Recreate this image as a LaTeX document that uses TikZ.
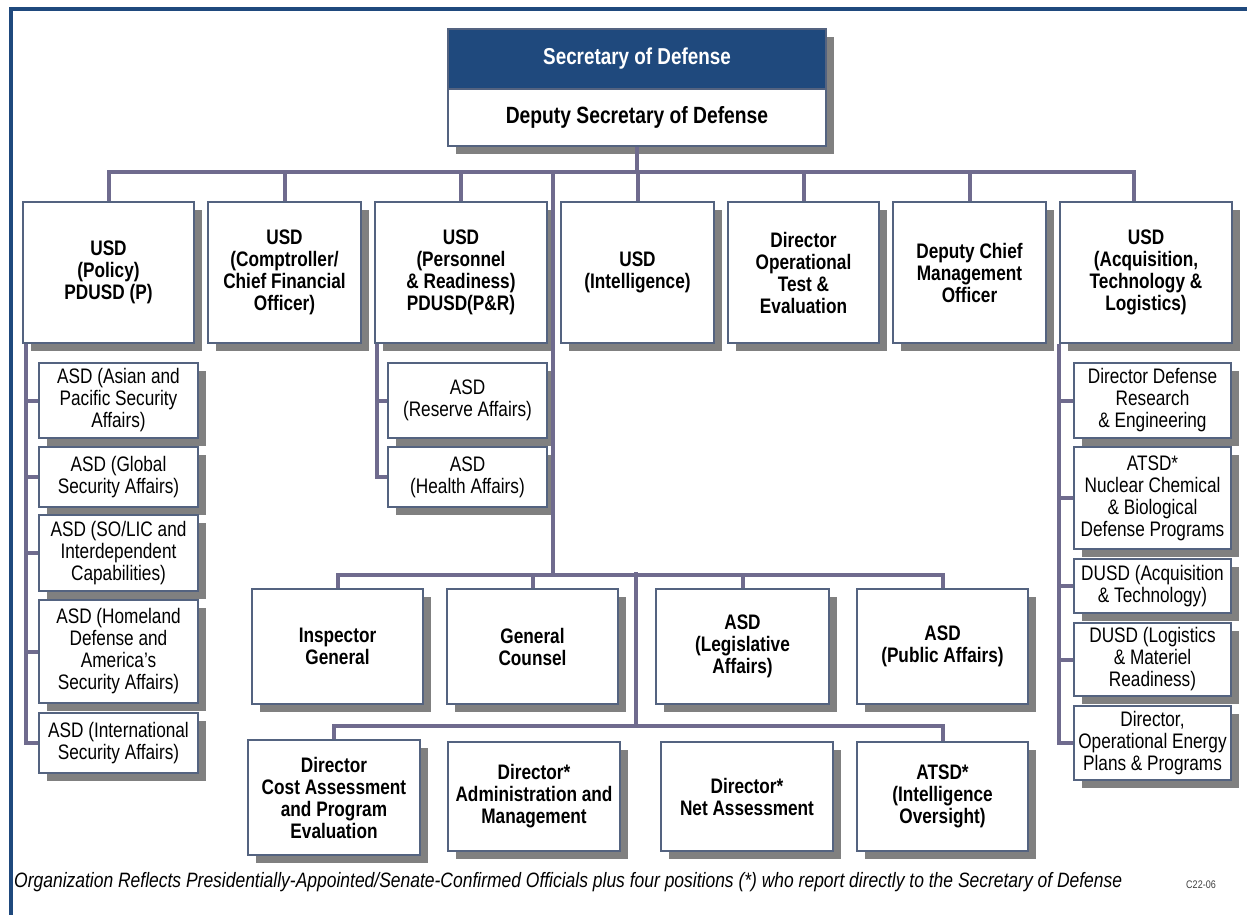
\documentclass[tikz,border=0pt]{standalone}
\usepackage{fontspec}
\setmainfont{Liberation Sans}
\newfontfamily\narrowfont[FakeStretch=0.82]{Liberation Sans}
\newfontfamily\notefont[FakeStretch=0.84]{Liberation Sans}
\usetikzlibrary{shadows}

\definecolor{secblue}{RGB}{31,73,125}
\definecolor{boxedge}{RGB}{84,99,128}
\definecolor{linkgray}{RGB}{111,107,142}
\definecolor{shadowgray}{RGB}{128,128,128}

\begin{document}
\begin{tikzpicture}[x=1pt,y=-1pt,
	orgbox/.style={draw=boxedge,line width=1.5pt,fill=white,align=center,inner sep=1pt,
		font=\narrowfont\fontsize{21}{22}\selectfont,
		drop shadow={shadow xshift=8pt,shadow yshift=-8pt,fill=shadowgray,opacity=1}},
	headbox/.style={orgbox,font=\narrowfont\bfseries\fontsize{21}{22}\selectfont},
	conn/.style={draw=linkgray,line width=4pt},
	frame/.style={draw=secblue,line width=4.5pt}]
		\useasboundingbox (0,0) rectangle (1247,915);
		
		% Draw the outer frame
		\draw[frame] (11,915) -- (11,9) -- (1247,9);
		
		% Secretary and deputy
		\node[headbox,fill=secblue,text=white,minimum width=378pt,minimum height=60pt,
			font=\narrowfont\bfseries\fontsize{23}{24}\selectfont] (sec) at (637,59) {Secretary of Defense};
		\node[headbox,minimum width=378pt,minimum height=57pt,
			font=\narrowfont\bfseries\fontsize{23.5}{24}\selectfont] (dep) at (637,117.5) {Deputy Secretary of Defense};
		
		% Under secretaries and directors
		\node[headbox,minimum width=171pt,minimum height=141pt] (pol) at (108.5,272.5) {USD\\(Policy)\\PDUSD (P)};
		\node[headbox,minimum width=153pt,minimum height=141pt] (cmp) at (284.5,272.5) {USD\\(Comptroller/\\Chief Financial\\Officer)};
		\node[headbox,minimum width=172pt,minimum height=141pt] (pr) at (461,272.5) {USD\\(Personnel\\\& Readiness)\\PDUSD(P\&R)};
		\node[headbox,minimum width=153pt,minimum height=141pt] (intel) at (637.5,272.5) {USD\\(Intelligence)};
		\node[headbox,minimum width=151pt,minimum height=141pt] (ote) at (803.5,272.5) {Director\\Operational\\Test \&\\Evaluation};
		\node[headbox,minimum width=153pt,minimum height=141pt] (dcmo) at (969.5,272.5) {Deputy Chief\\Management\\Officer};
		\node[headbox,minimum width=172pt,minimum height=141pt] (atl) at (1146,272.5) {USD\\(Acquisition,\\Technology \&\\Logistics)};
		
		% Policy offices
		\node[orgbox,minimum width=159pt,minimum height=75pt] (a1) at (118.5,400.5) {ASD (Asian and\\Pacific Security\\Affairs)};
		\node[orgbox,minimum width=159pt,minimum height=60pt] (a2) at (118.5,477) {ASD (Global\\Security Affairs)};
		\node[orgbox,minimum width=159pt,minimum height=76pt] (a3) at (118.5,553) {ASD (SO/LIC and\\Interdependent\\Capabilities)};
		\node[orgbox,minimum width=159pt,minimum height=103pt] (a4) at (118.5,651.5) {ASD (Homeland\\Defense and\\America’s\\Security Affairs)};
		\node[orgbox,minimum width=159pt,minimum height=60pt] (a5) at (118.5,743) {ASD (International\\Security Affairs)};
		
		% Personnel and readiness offices
		\node[orgbox,minimum width=159pt,minimum height=75pt] (r1) at (467.5,400.5) {ASD\\(Reserve Affairs)};
		\node[orgbox,minimum width=159pt,minimum height=60pt] (r2) at (467.5,477) {ASD\\(Health Affairs)};
		
		% Acquisition offices
		\node[orgbox,minimum width=157pt,minimum height=75pt] (t1) at (1152.5,400.5) {Director Defense\\Research\\\& Engineering};
		\node[orgbox,minimum width=157pt,minimum height=102pt] (t2) at (1152.5,498) {ATSD*\\Nuclear Chemical\\\& Biological\\Defense Programs};
		\node[orgbox,minimum width=157pt,minimum height=54pt] (t3) at (1152.5,586) {DUSD (Acquisition\\\& Technology)};
		\node[orgbox,minimum width=157pt,minimum height=73pt] (t4) at (1152.5,659.5) {DUSD (Logistics\\\& Materiel\\Readiness)};
		\node[orgbox,minimum width=157pt,minimum height=74pt] (t5) at (1152.5,743) {Director,\\Operational Energy\\Plans \& Programs};
		
		% Staff offices, first row
		\node[headbox,minimum width=171pt,minimum height=115pt] (ig) at (337.5,646.5) {Inspector\\General};
		\node[headbox,minimum width=171pt,minimum height=115pt] (gc) at (532.5,646.5) {General\\Counsel};
		\node[headbox,minimum width=173pt,minimum height=115pt] (leg) at (742.5,646.5) {ASD\\(Legislative\\Affairs)};
		\node[headbox,minimum width=171pt,minimum height=115pt] (pub) at (942.5,646.5) {ASD\\(Public Affairs)};
		
		% Staff offices, second row
		\node[headbox,minimum width=172pt,minimum height=115pt] (cost) at (334,797.5) {Director\\Cost Assessment\\and Program\\Evaluation};
		\node[headbox,minimum width=172pt,minimum height=109pt] (adm) at (534,796.5) {Director*\\Administration and\\Management};
		\node[headbox,minimum width=172pt,minimum height=109pt] (net) at (747,796.5) {Director*\\Net Assessment};
		\node[headbox,minimum width=171pt,minimum height=109pt] (atsd) at (942.5,796.5) {ATSD*\\(Intelligence\\Oversight)};
		
		% Draw the main bus
		\coordinate (bus) at (637,172);
		\draw[conn] (dep.south) -- (bus);
		\draw[conn] (pol.north) |- (bus);
		\draw[conn] (bus) -| ([xshift=-12pt]atl.north);
		\foreach \n in {cmp,pr,intel,ote,dcmo}
		\draw[conn] (\n.north) -- (\n.north |- bus);
		
		% Draw the spines of the sub-offices
		\coordinate (pspine) at ([xshift=4pt]pol.south west);
		\draw[conn] (pspine) |- (a5.west);
		\foreach \n in {a1,a2,a3,a4}
		\draw[conn] (\n.west) -- (\n.west -| pspine);
		\coordinate (rspine) at ([xshift=3pt]pr.south west);
		\draw[conn] (rspine) |- (r2.west);
		\draw[conn] (r1.west) -- (r1.west -| rspine);
		\coordinate (tspine) at (atl.south west);
		\draw[conn] (tspine) |- (t5.west);
		\foreach \n in {t1,t2,t3,t4}
		\draw[conn] (\n.west) -- (\n.west -| tspine);
		
		% Draw the staff buses
		\coordinate (tap) at (553,172);
		\coordinate (lowbus) at (553,575);
		\draw[conn] (tap) -- (lowbus);
		\draw[conn] (ig.north) |- (lowbus) -| (pub.north);
		\foreach \n in {gc,leg}
		\draw[conn] (\n.north) -- (\n.north |- lowbus);
		\coordinate (midtap) at (636,572);
		\coordinate (lowbus2) at (636,726);
		\draw[conn] (midtap) -- (lowbus2);
		\draw[conn] (cost.north) |- (lowbus2) -| (atsd.north);
		
		% Add the footnote
		\node[anchor=west,inner sep=0pt,font=\notefont\itshape\fontsize{20.8}{24}\selectfont] (note) at (14,882)
			{Organization Reflects Presidentially-Appointed/Senate-Confirmed Officials plus four positions (*) who report directly to the Secretary of Defense};
		\node[inner sep=0pt,font=\narrowfont\fontsize{11}{13}\selectfont,text=black!75] (code) at (1201,885) {C22-06};
	\end{tikzpicture}
\end{document}
